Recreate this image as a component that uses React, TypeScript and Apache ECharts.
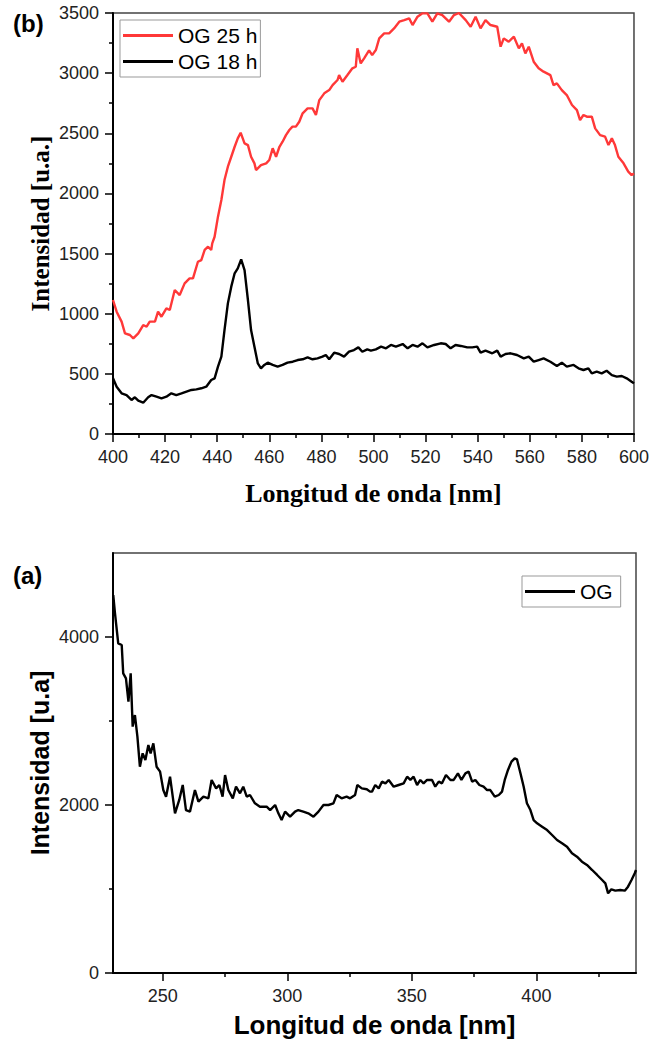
import React, { useEffect, useRef } from 'react';
import * as echarts from 'echarts';

// ---- Data ----
const og25Wl = [400.0, 401.4, 403.3, 404.6, 406.5, 407.8, 409.7, 411.6, 412.9, 414.1, 416.1, 417.3, 418.6, 420.5, 421.8, 423.7, 425.6, 427.5, 429.4, 430.7, 432.6, 433.9, 435.2, 436.5, 437.7, 438.1, 439.0, 440.3, 441.6, 442.8, 444.1, 445.4, 446.7, 447.9, 449.0, 450.5, 451.8, 453.0, 454.3, 454.9, 456.8, 458.8, 460.0, 461.3, 462.6, 463.9, 465.1, 466.4, 467.7, 468.9, 470.2, 471.5, 472.8, 474.7, 476.6, 477.9, 479.2, 481.1, 483.0, 484.3, 486.2, 486.8, 488.1, 490.0, 491.9, 493.2, 493.8, 495.1, 496.4, 498.3, 499.5, 500.9, 502.2, 504.1, 506.0, 507.9, 509.9, 511.8, 513.7, 515.0, 516.9, 518.8, 520.7, 522.6, 524.5, 526.4, 529.0, 530.9, 532.8, 535.4, 537.3, 539.2, 541.1, 543.0, 544.9, 547.5, 548.8, 550.0, 551.9, 553.9, 555.8, 557.0, 558.3, 559.6, 561.5, 563.4, 565.3, 567.9, 569.1, 570.4, 572.3, 574.2, 576.2, 578.1, 579.3, 580.6, 581.9, 583.8, 585.1, 587.0, 588.9, 590.2, 591.5, 592.7, 594.0, 596.0, 597.8, 599.1, 600.0];
const og25Int = [1114, 1017, 934, 837, 823, 795, 837, 906, 892, 934, 934, 1017, 975, 1045, 1031, 1197, 1155, 1252, 1294, 1294, 1432, 1446, 1530, 1557, 1530, 1585, 1640, 1807, 1945, 2111, 2222, 2305, 2388, 2458, 2505, 2416, 2402, 2305, 2250, 2194, 2236, 2250, 2278, 2375, 2305, 2388, 2430, 2485, 2527, 2555, 2555, 2596, 2666, 2707, 2707, 2652, 2776, 2832, 2859, 2901, 2943, 2984, 2929, 2984, 3040, 3053, 3206, 3081, 3123, 3190, 3150, 3192, 3289, 3331, 3331, 3372, 3428, 3441, 3455, 3400, 3469, 3497, 3497, 3428, 3497, 3483, 3428, 3483, 3500, 3441, 3386, 3469, 3372, 3441, 3400, 3386, 3220, 3289, 3261, 3303, 3206, 3248, 3164, 3220, 3095, 3040, 3012, 2984, 2901, 2915, 2859, 2818, 2735, 2693, 2610, 2652, 2638, 2638, 2541, 2485, 2472, 2402, 2458, 2402, 2305, 2250, 2181, 2153, 2165];

const og18Wl = [400.0, 401.4, 403.3, 405.2, 407.1, 408.4, 409.7, 411.6, 413.5, 414.8, 416.7, 418.6, 420.5, 422.4, 424.3, 426.3, 428.2, 430.1, 432.0, 433.9, 435.8, 437.7, 439.0, 440.3, 441.6, 442.8, 444.1, 445.4, 446.7, 447.9, 449.2, 450.5, 451.8, 453.0, 454.3, 455.6, 456.8, 458.1, 459.4, 461.3, 463.2, 465.1, 467.0, 469.0, 470.9, 472.8, 474.7, 476.6, 478.5, 480.4, 481.7, 483.0, 484.9, 486.8, 488.7, 490.6, 492.5, 494.2, 495.7, 497.6, 499.0, 500.9, 502.9, 504.8, 506.7, 508.6, 511.2, 513.1, 515.0, 516.9, 518.8, 520.7, 523.3, 525.8, 527.7, 529.6, 531.5, 533.5, 536.0, 537.9, 539.8, 541.1, 543.0, 545.6, 547.5, 548.8, 550.7, 552.6, 555.1, 557.7, 559.6, 561.5, 563.4, 565.3, 567.9, 570.4, 572.3, 574.2, 576.8, 578.7, 580.6, 582.5, 583.8, 585.7, 587.6, 589.5, 591.5, 593.4, 595.3, 597.2, 599.1, 600.0];
const og18Int = [463, 393, 338, 324, 283, 305, 277, 260, 305, 324, 310, 296, 310, 338, 324, 338, 352, 366, 371, 380, 393, 449, 463, 560, 643, 864, 1086, 1225, 1336, 1377, 1452, 1363, 1114, 864, 726, 587, 546, 574, 593, 574, 560, 574, 593, 601, 615, 621, 637, 621, 629, 643, 657, 621, 676, 665, 643, 684, 698, 720, 684, 704, 693, 704, 726, 712, 740, 726, 748, 712, 740, 726, 754, 720, 740, 754, 748, 712, 740, 732, 720, 720, 726, 676, 693, 671, 693, 643, 665, 671, 657, 629, 643, 601, 615, 629, 601, 565, 593, 560, 574, 546, 532, 546, 504, 518, 504, 526, 490, 477, 482, 463, 435, 421];

const ogWl = [230.1, 230.8, 232.1, 233.5, 234.1, 235.2, 236.2, 237.1, 237.9, 238.8, 239.8, 240.8, 241.9, 243.0, 244.2, 245.1, 246.2, 247.5, 248.9, 250.2, 251.3, 252.9, 254.9, 256.6, 258.0, 259.3, 260.9, 262.9, 264.3, 266.3, 268.3, 269.6, 271.4, 272.7, 274.0, 275.0, 276.3, 278.1, 279.4, 281.0, 282.3, 283.7, 285.0, 287.0, 289.0, 291.7, 293.1, 295.1, 296.4, 297.7, 299.1, 301.1, 303.1, 304.4, 306.4, 308.4, 310.5, 312.5, 314.5, 316.5, 318.5, 319.8, 321.8, 323.8, 325.2, 327.2, 328.1, 329.9, 331.9, 333.2, 334.0, 335.3, 336.7, 338.0, 339.4, 340.7, 342.7, 344.7, 346.7, 348.1, 349.4, 350.7, 352.1, 353.4, 354.7, 356.1, 358.1, 359.4, 360.8, 362.1, 363.7, 365.5, 366.8, 368.5, 369.9, 371.5, 372.8, 374.2, 375.5, 377.1, 378.8, 380.2, 381.5, 383.3, 384.9, 386.2, 387.3, 388.6, 390.0, 391.3, 392.2, 393.6, 394.9, 396.2, 397.6, 398.9, 400.3, 402.3, 404.3, 406.3, 408.3, 410.3, 412.3, 414.3, 416.3, 418.3, 420.3, 422.4, 424.4, 426.4, 427.7, 428.8, 430.1, 431.7, 433.7, 435.5, 436.8, 438.2, 439.5, 440.0];
const ogInt = [4500, 4282, 3925, 3905, 3567, 3508, 3230, 3567, 2933, 3071, 2813, 2456, 2615, 2536, 2714, 2615, 2734, 2456, 2397, 2178, 2099, 2337, 1901, 2060, 2238, 1940, 1921, 2178, 2040, 2099, 2079, 2298, 2198, 2238, 2099, 2357, 2178, 2079, 2218, 2139, 2218, 2099, 2119, 2020, 1980, 1980, 1940, 2000, 1901, 1821, 1921, 1861, 1921, 1940, 1921, 1901, 1861, 1921, 2000, 2000, 2020, 2119, 2079, 2099, 2079, 2119, 2238, 2198, 2187, 2159, 2159, 2238, 2198, 2278, 2258, 2298, 2218, 2238, 2258, 2337, 2298, 2337, 2238, 2298, 2258, 2298, 2298, 2218, 2278, 2258, 2357, 2298, 2298, 2377, 2298, 2377, 2397, 2278, 2298, 2238, 2218, 2178, 2178, 2099, 2119, 2159, 2298, 2417, 2516, 2556, 2544, 2377, 2218, 2020, 1940, 1821, 1782, 1742, 1702, 1643, 1583, 1544, 1504, 1425, 1385, 1325, 1286, 1226, 1167, 1107, 1067, 948, 996, 980, 988, 980, 1028, 1107, 1187, 1226];

// Tick values for the lower panel
const bottomXMajor = [250, 300, 350, 400];
const bottomXMinor = [275, 325, 375, 425];
const bottomYMajor = [0, 2000, 4000];
const bottomYMinor = [1000, 3000];

const pairs = (xs: number[], ys: number[]) => xs.map((x, i) => [x, ys[i]]);

const sans = 'Liberation Sans, Arial, sans-serif';
const serif = 'Liberation Serif, Times New Roman, serif';

export default function App() {
  const ref = useRef<HTMLDivElement>(null);

  useEffect(() => {
    if (!ref.current) return;
    const chart = echarts.init(ref.current, undefined, { renderer: 'svg' });

    const axisLine = { show: true, onZero: false, lineStyle: { color: '#000', width: 2 } };
    const tickStyle = { color: '#000', width: 1.5 };
    const plain = (v: number) => String(v);
    const labelStyle = { fontFamily: sans, fontSize: 18, color: '#222', formatter: plain };

    const option: any = {
      animation: false,
      backgroundColor: '#fff',
      grid: [
        { left: 113, top: 13, width: 523, height: 421, show: true, borderColor: '#444', borderWidth: 1.5 },
        { left: 113, top: 553, width: 523, height: 420, show: true, borderColor: '#444', borderWidth: 1.5 },
      ],
      xAxis: [
        {
          type: 'value', gridIndex: 0, min: 400, max: 600, interval: 20,
          axisLine, axisTick: { show: true, length: 8, lineStyle: tickStyle },
          minorTick: { show: true, splitNumber: 2, length: 4, lineStyle: tickStyle },
          axisLabel: { ...labelStyle, margin: 14 }, splitLine: { show: false },
          name: 'Longitud de onda [nm]', nameLocation: 'middle', nameGap: 46, nameMoveOverlap: false,
          nameTextStyle: { fontFamily: serif, fontWeight: 'bold', fontSize: 26, color: '#000' },
        },
        {
          type: 'value', gridIndex: 1, min: 230, max: 440, position: 'bottom',
          axisLine, axisTick: { show: true, length: 8, lineStyle: tickStyle, customValues: bottomXMajor },
          axisLabel: { ...labelStyle, margin: 14, customValues: bottomXMajor }, splitLine: { show: false },
          name: 'Longitud de onda [nm]', nameLocation: 'middle', nameGap: 39, nameMoveOverlap: false,
          nameTextStyle: { fontFamily: sans, fontWeight: 'bold', fontSize: 26, color: '#000' },
        },
        {
          type: 'value', gridIndex: 1, min: 230, max: 440, position: 'bottom',
          axisLine: { show: false }, axisTick: { show: true, length: 4, lineStyle: tickStyle, customValues: bottomXMinor },
          axisLabel: { show: false }, splitLine: { show: false },
        },
      ],
      yAxis: [
        {
          type: 'value', gridIndex: 0, min: 0, max: 3500, interval: 500,
          axisLine, axisTick: { show: true, length: 8, lineStyle: tickStyle },
          minorTick: { show: true, splitNumber: 2, length: 4, lineStyle: tickStyle },
          axisLabel: { ...labelStyle, margin: 14 }, splitLine: { show: false },
          name: 'Intensidad [u.a.]', nameLocation: 'middle', nameGap: 60, nameMoveOverlap: false,
          nameTextStyle: { fontFamily: serif, fontWeight: 'bold', fontSize: 25, color: '#000' },
        },
        {
          type: 'value', gridIndex: 1, min: 0, max: 5000, position: 'left',
          axisLine, axisTick: { show: true, length: 8, lineStyle: tickStyle, customValues: bottomYMajor },
          axisLabel: { ...labelStyle, margin: 14, customValues: bottomYMajor }, splitLine: { show: false },
          name: 'Intensidad [u.a]', nameLocation: 'middle', nameGap: 61, nameMoveOverlap: false,
          nameTextStyle: { fontFamily: sans, fontWeight: 'bold', fontSize: 25, color: '#000' },
        },
        {
          type: 'value', gridIndex: 1, min: 0, max: 5000, position: 'left',
          axisLine: { show: false }, axisTick: { show: true, length: 4, lineStyle: tickStyle, customValues: bottomYMinor },
          axisLabel: { show: false }, splitLine: { show: false },
        },
      ],
      legend: [
        {
          left: 120, top: 20, orient: 'vertical', data: ['OG 25 h', 'OG 18 h'],
          icon: 'rect', itemWidth: 50, itemHeight: 3, itemGap: 5, padding: [5, 3, 5, 3],
          borderColor: '#999', borderWidth: 1, selectedMode: false,
          textStyle: { fontFamily: sans, fontSize: 21, color: '#000' },
        },
        {
          left: 522, top: 576, orient: 'vertical', data: ['OG'],
          icon: 'rect', itemWidth: 50, itemHeight: 3, padding: [5, 8, 5, 3],
          borderColor: '#999', borderWidth: 1, selectedMode: false,
          textStyle: { fontFamily: sans, fontSize: 21, color: '#000' },
        },
      ],
      graphic: [
        { type: 'text', left: 13, top: 11, style: { text: '(b)', font: `bold 24px ${sans}`, fill: '#000' } },
        { type: 'text', left: 13, top: 563, style: { text: '(a)', font: `bold 24px ${sans}`, fill: '#000' } },
      ],
      series: [
        {
          name: 'OG 25 h', type: 'line', xAxisIndex: 0, yAxisIndex: 0, data: pairs(og25Wl, og25Int),
          showSymbol: false, symbol: 'none', color: '#ff3838', lineStyle: { width: 2.4, color: '#ff3838' },
        },
        {
          name: 'OG 18 h', type: 'line', xAxisIndex: 0, yAxisIndex: 0, data: pairs(og18Wl, og18Int),
          showSymbol: false, symbol: 'none', color: '#000', lineStyle: { width: 2.4, color: '#000' },
        },
        {
          name: 'OG', type: 'line', xAxisIndex: 1, yAxisIndex: 1, data: pairs(ogWl, ogInt),
          showSymbol: false, symbol: 'none', color: '#000', lineStyle: { width: 2.4, color: '#000' },
        },
      ],
    };

    chart.setOption(option);
    return () => chart.dispose();
  }, []);

  return (
    <div
      ref={ref}
      style={{ position: 'absolute', left: 0, top: 0, width: 652, height: 1048, background: '#fff' }}
    />
  );
}
